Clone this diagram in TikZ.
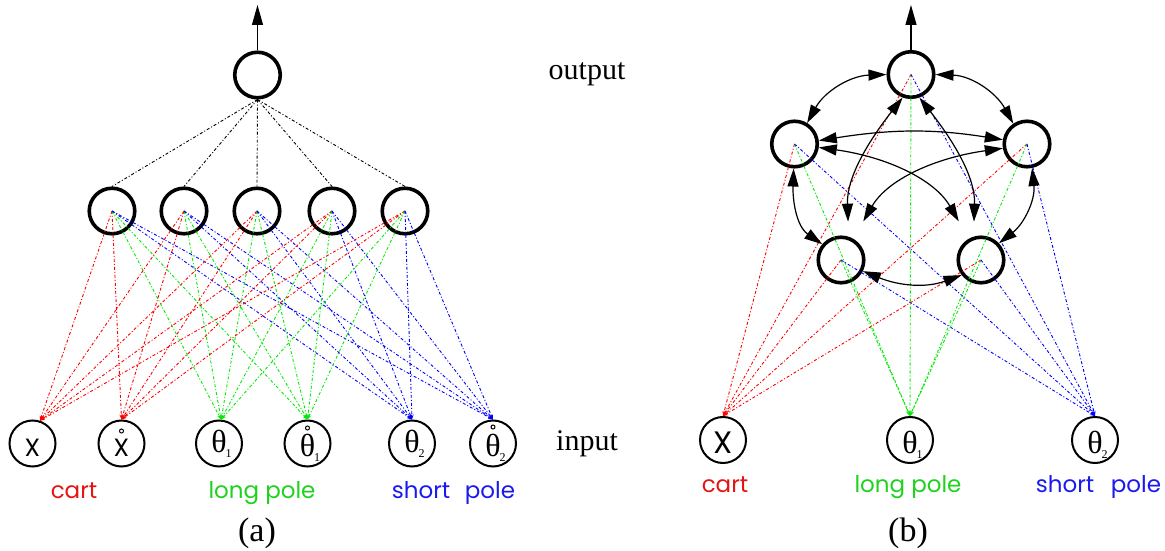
\documentclass[tikz,border=0pt]{standalone}
\usepackage{fontspec}
\setmainfont{Liberation Serif}
\newfontfamily\agfont{Poppins}
\usetikzlibrary{arrows.meta,calc}
\definecolor{lred}{RGB}{255,0,0}
\definecolor{lgreen}{RGB}{0,235,0}
\definecolor{lblue}{RGB}{0,0,255}
\definecolor{tred}{RGB}{228,20,20}
\definecolor{tgreen}{RGB}{30,210,30}
\definecolor{tblue}{RGB}{25,25,240}
\newcommand{\thsub}[1]{{\fontsize{32}{32}\selectfont θ}\rlap{\smash{\raisebox{-5pt}{\hspace{-1pt}\fontsize{12}{12}\selectfont #1}}}}
\begin{document}
\begin{tikzpicture}[x=1pt,y=1pt,
  unit/.style={circle,draw,line width=3.6pt,minimum size=45.5pt,inner sep=0pt},
  inp/.style={circle,draw,line width=2pt,minimum size=46pt,inner sep=0pt,text depth=0pt},
  xnode/.style={inp,text height=26pt,font=\agfont\fontsize{25}{25}\selectfont},
  thnode/.style={inp,text height=18pt},
  thdnode/.style={inp,text height=25pt},
  conn/.style={line width=0.9pt,dash pattern=on 3pt off 2pt on 1pt off 2pt,-{Stealth[length=5pt,width=3.5pt]}},
  rc/.style={conn,lred}, gc/.style={conn,lgreen}, bc/.style={conn,lblue},
  hc/.style={line width=0.9pt,dash pattern=on 3pt off 2pt on 1pt off 2pt},
  rec/.style={line width=1.2pt,{Triangle[length=18pt,width=11pt]}-{Triangle[length=18pt,width=11pt]}},
  outarr/.style={line width=1.2pt,-{Triangle[length=20pt,width=11pt]}},
  lab/.style={anchor=base,font=\agfont\fontsize{23}{23}\selectfont},
  side/.style={anchor=base,font=\fontsize{30}{30}\selectfont},
  capt/.style={anchor=base,font=\fontsize{34}{34}\selectfont},
  ring/.style={line width=1pt}
  ]
\useasboundingbox (0,0) rectangle (1165,550);

% ---------------- panel (a) ----------------
\node[unit] (ao) at (257.5,475) {};
\node[unit] (h1) at (112,339) {};
\node[unit] (h2) at (184,339) {};
\node[unit] (h3) at (257,339) {};
\node[unit] (h4) at (332,339) {};
\node[unit] (h5) at (405,339) {};

\node[xnode] (a1) at (32.5,106.5) {X};
\node[xnode] (a2) at (121.5,106.5) {X};
\node[thnode] (a3) at (219,106.5) {\thsub{1}};
\node[thdnode] (a4) at (307.5,106.5) {\thsub{1}};
\node[thnode] (a5) at (412,106.5) {\thsub{2}};
\node[thdnode] (a6) at (493,106.5) {\thsub{2}};
\draw[ring] ($(a2.center)+(0,12.5)$) circle (2pt);
\draw[ring] ($(a4.center)+(0,15.5)$) circle (2pt);
\draw[ring] ($(a6.center)+(0,16.5)$) circle (2pt);

\coordinate (aotop) at (257.5,545);
\draw[outarr] (ao.north) -- (aotop);

\foreach \h in {h1,h2,h3,h4,h5}{
  \draw[hc] (ao.south) -- (\h.north);
  \draw[rc] (\h.center) -- (a1.72);
  \draw[rc] (\h.center) -- (a2.north);
  \draw[gc] (\h.center) -- (a3.85);
  \draw[gc] (\h.center) -- (a4.north);
  \draw[bc] (\h.center) -- (a5.north);
  \draw[bc] (\h.center) -- (a6.north);
}

\node[lab,text=tred] (lcarta) at (74,52) {cart};
\node[lab,text=tgreen] (llonga) at (262,52) {long pole};
\node[lab,text=tblue] (lshorta) at (421,52) {short};
\node[lab,text=tblue] (lpolea) at (490,52) {pole};
\node[capt] (capa) at (257,9) {(a)};

\node[side] (loutput) at (587,470) {output};
\node[side] (linput) at (587,100) {input};

% ---------------- panel (b) ----------------
\node[unit] (T) at (911,475.5) {};
\node[unit] (LU) at (794.5,406) {};
\node[unit] (RU) at (1027,406) {};
\node[unit] (LL) at (841,290) {};
\node[unit] (LR) at (981,290) {};

\node[inp,text height=26pt,font=\agfont\fontsize{31}{31}\selectfont] (bx) at (723,110) {X};
\node[inp,text height=26pt] (bt1) at (910,110) {\thsub{1}};
\node[inp,text height=26pt] (bt2) at (1095,110) {\thsub{2}};

\coordinate (Ttop) at (911,545);
\draw[outarr] (T.north) -- (Ttop);

\foreach \n in {T,LU,RU,LL,LR}{
  \draw[rc] (\n.center) -- (bx.north);
  \draw[gc] (\n.center) -- (bt1.north);
  \draw[bc] (\n.center) -- (bt2.north);
}

\draw[rec] (T.180) to[out=182,in=61] (LU.59);
\draw[rec] (T.0) to[out=-2,in=119] (RU.124);
\draw[rec] (LU.8) to[out=9,in=171] (RU.170);
\draw[rec] (LU.268) to[out=268,in=145] (LL.140);
\draw[rec] (RU.282) to[out=276,in=38] (LR.43);
\draw[rec] (LL.-27) to[out=-22,in=200] (LR.218);
\draw[rec,shorten >=15pt] (T.250) to[out=232,in=92] (LL.72);
\draw[rec,shorten >=15pt] (T.290) to[out=308,in=88] (LR.108);
\draw[rec,shorten >=20pt] (LU.-8) to[out=-8,in=120] (LR.120);
\draw[rec,shorten >=20pt] (RU.190) to[out=188,in=60] (LL.60);

\node[lab,text=tred] (lcartb) at (725,58) {cart};
\node[lab,text=tgreen] (llongb) at (908,58) {long pole};
\node[lab,text=tblue] (lshortb) at (1065,58) {short};
\node[lab,text=tblue] (lpoleb) at (1136,58) {pole};
\node[capt] (capb) at (908,9) {(b)};
\end{tikzpicture}
\end{document}
